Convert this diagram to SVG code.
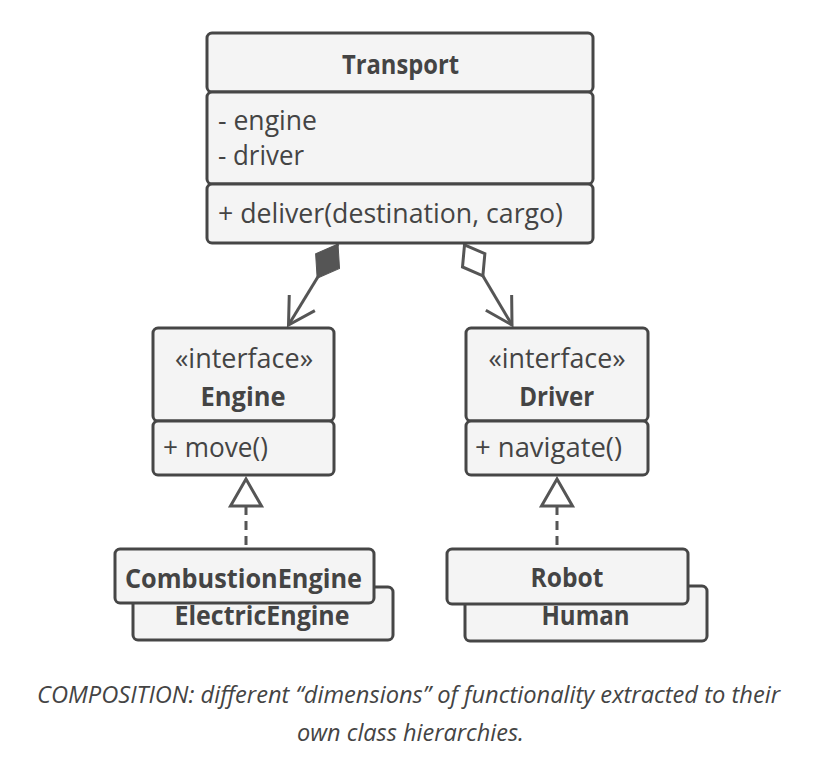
<svg xmlns="http://www.w3.org/2000/svg" width="829" height="776" viewBox="0 0 829 776">
<style>
.box{fill:#f4f4f4;stroke:#464646;stroke-width:3}
.t{font-family:"Open Sans","Liberation Sans",sans-serif;font-size:27px;fill:#444}
.b{font-weight:bold}
.c{text-anchor:middle}
.con{fill:none;stroke:#555;stroke-width:3}
.dash{stroke-dasharray:9 6}
.cap{font-family:"Open Sans","Liberation Sans",sans-serif;font-size:23px;font-style:italic;fill:#444;text-anchor:middle}
</style>
<defs>
<marker id="filledDiamond" markerUnits="userSpaceOnUse" orient="auto" refX="0" refY="0" markerWidth="50" markerHeight="40" overflow="visible">
<path d="M0,0 L20,-14 L40,0 L20,14 Z" fill="#555" stroke="#555" stroke-width="1" stroke-linejoin="miter"/>
</marker>
<marker id="hollowDiamond" markerUnits="userSpaceOnUse" orient="auto" refX="0" refY="0" markerWidth="50" markerHeight="40" overflow="visible">
<path d="M1,0 L19,-13 L37,0 L19,13 Z" fill="#fff" stroke="#555" stroke-width="3" stroke-linejoin="miter"/>
</marker>
<marker id="openArrow" markerUnits="userSpaceOnUse" orient="auto" refX="0" refY="0" markerWidth="40" markerHeight="40" overflow="visible">
<path d="M-26,-15 L0,0 L-26,15" fill="none" stroke="#555" stroke-width="3" stroke-linejoin="miter"/>
</marker>
<marker id="hollowTriangle" markerUnits="userSpaceOnUse" orient="auto" refX="0" refY="0" markerWidth="40" markerHeight="40" overflow="visible">
<path d="M0,-15.5 L-27,0 L0,15.5 Z" fill="#fff" stroke="#555" stroke-width="3" stroke-dasharray="none" stroke-linejoin="miter"/>
</marker>
</defs>
<rect width="829" height="776" fill="#fff"/>
<g id="connectors">
<path class="con" d="M338,244 L288.5,325" marker-start="url(#filledDiamond)" marker-end="url(#openArrow)"/>
<path class="con" d="M464,244 L512,325" marker-start="url(#hollowDiamond)" marker-end="url(#openArrow)"/>
<path class="con dash" d="M246,506 L246,552" marker-start="url(#hollowTriangle)"/>
<path class="con dash" d="M557,506 L557,552" marker-start="url(#hollowTriangle)"/>
</g>
<g id="transport">
<rect class="box" x="207" y="33" width="386" height="59" rx="5"/>
<rect class="box" x="207" y="92" width="386" height="92" rx="5"/>
<rect class="box" x="207" y="184" width="386" height="59" rx="5"/>
<text class="t b c" x="400.5" y="74" textLength="117" lengthAdjust="spacingAndGlyphs">Transport</text>
<text class="t" x="218" y="130" textLength="99" lengthAdjust="spacingAndGlyphs">- engine</text>
<text class="t" x="218" y="165" textLength="86" lengthAdjust="spacingAndGlyphs">- driver</text>
<text class="t" x="218" y="223" textLength="345" lengthAdjust="spacingAndGlyphs">+ deliver(destination, cargo)</text>
</g>
<g id="engine">
<rect class="box" x="153" y="328" width="181" height="93" rx="5"/>
<rect class="box" x="153" y="421" width="181" height="54" rx="5"/>
<text class="t c" x="244" y="368" textLength="138" lengthAdjust="spacingAndGlyphs">«interface»</text>
<text class="t b c" x="243" y="406" textLength="85" lengthAdjust="spacingAndGlyphs">Engine</text>
<text class="t" x="163" y="457" textLength="105" lengthAdjust="spacingAndGlyphs">+ move()</text>
</g>
<g id="driver">
<rect class="box" x="466" y="328" width="182" height="93" rx="5"/>
<rect class="box" x="466" y="421" width="182" height="54" rx="5"/>
<text class="t c" x="557" y="368" textLength="137" lengthAdjust="spacingAndGlyphs">«interface»</text>
<text class="t b c" x="556.7" y="406" textLength="75" lengthAdjust="spacingAndGlyphs">Driver</text>
<text class="t" x="475" y="457" textLength="147" lengthAdjust="spacingAndGlyphs">+ navigate()</text>
</g>
<g id="electricEngine">
<rect class="box" x="133" y="587" width="260" height="53" rx="5"/>
<text class="t b c" x="262" y="625" textLength="175" lengthAdjust="spacingAndGlyphs">ElectricEngine</text>
</g>
<g id="combustionEngine">
<rect class="box" x="115" y="549" width="259" height="54" rx="5"/>
<text class="t b c" x="243.5" y="588" textLength="237" lengthAdjust="spacingAndGlyphs">CombustionEngine</text>
</g>
<g id="human">
<rect class="box" x="465" y="586" width="242" height="55" rx="5"/>
<text class="t b c" x="585.5" y="625" textLength="88" lengthAdjust="spacingAndGlyphs">Human</text>
</g>
<g id="robot">
<rect class="box" x="447" y="549" width="241" height="55" rx="5"/>
<text class="t b c" x="567" y="587" textLength="73" lengthAdjust="spacingAndGlyphs">Robot</text>
</g>
<g id="caption">
<text class="cap" x="408.5" y="703" textLength="743" lengthAdjust="spacingAndGlyphs">COMPOSITION: different “dimensions” of functionality extracted to their</text>
<text class="cap" x="410.5" y="741" textLength="227" lengthAdjust="spacingAndGlyphs">own class hierarchies.</text>
</g>
</svg>
